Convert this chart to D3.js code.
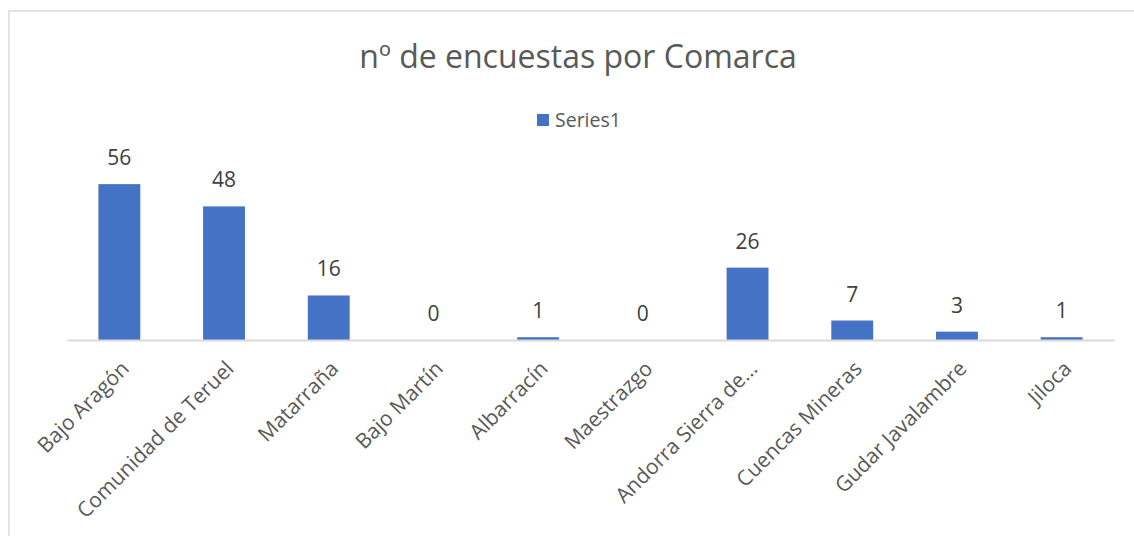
<!DOCTYPE html>
<html><head><meta charset="utf-8">
<script src="https://cdn.jsdelivr.net/npm/d3@7"></script>
<style>body{margin:0;background:#fff;} svg{display:block;font-family:"Open Sans",sans-serif;}</style>
</head><body>
<svg id="c" width="1134" height="536"></svg>
<script>
const categories = ["Bajo Aragón","Comunidad de Teruel","Matarraña","Bajo Martín","Albarracín","Maestrazgo","Andorra Sierra de...","Cuencas Mineras","Gudar Javalambre","Jiloca"];
const values = [56,48,16,0,1,0,26,7,3,1];
const seriesName = "Series1";
const title = "nº de encuestas por Comarca";

const svg = d3.select("#c");
svg.append("rect").attr("x",9).attr("y",11).attr("width",1140).attr("height",540)
  .attr("fill","#fff").attr("stroke","#d9d9d9").attr("stroke-width",1.5);

const x = d3.scaleBand().domain(categories).range([67,1114]).paddingInner(0.6).paddingOuter(0.3);
const y = d3.scaleLinear().domain([0,60]).range([340,173]);

svg.append("text").attr("x",578).attr("y",68).attr("text-anchor","middle")
  .attr("font-size",32).attr("fill","#595959").text(title);

const lg = svg.append("g");
lg.append("rect").attr("x",537).attr("y",114).attr("width",12).attr("height",12).attr("fill","#4472c4");
lg.append("text").attr("x",555).attr("y",127).attr("font-size",19.5).attr("fill","#595959").text(seriesName);

svg.selectAll("rect.bar").data(values).join("rect").attr("class","bar")
  .attr("x",(d,i)=>x(categories[i])).attr("width",x.bandwidth())
  .attr("y",d=>y(d)).attr("height",d=>y(0)-y(d)).attr("fill","#4472c4");

const axis = d3.axisBottom(x).tickSize(0).tickSizeOuter(0);
const ag = svg.append("g").attr("transform",`translate(0,${y(0)})`).call(axis);
ag.select(".domain").attr("stroke","#d9d9d9").attr("stroke-width",2);
ag.selectAll(".tick text").attr("font-size",21).attr("fill","#595959")
  .attr("font-family","Open Sans, sans-serif")
  .attr("text-anchor","end").attr("dy",null).attr("y",0)
  .attr("transform","translate(11,30) rotate(-45)");

svg.selectAll("text.val").data(values).join("text").attr("class","val")
  .attr("x",(d,i)=>x(categories[i])+x.bandwidth()/2).attr("y",d=>y(d)-19)
  .attr("text-anchor","middle").attr("font-size",21).attr("fill","#404040").text(d=>d);
</script>
</body></html>
